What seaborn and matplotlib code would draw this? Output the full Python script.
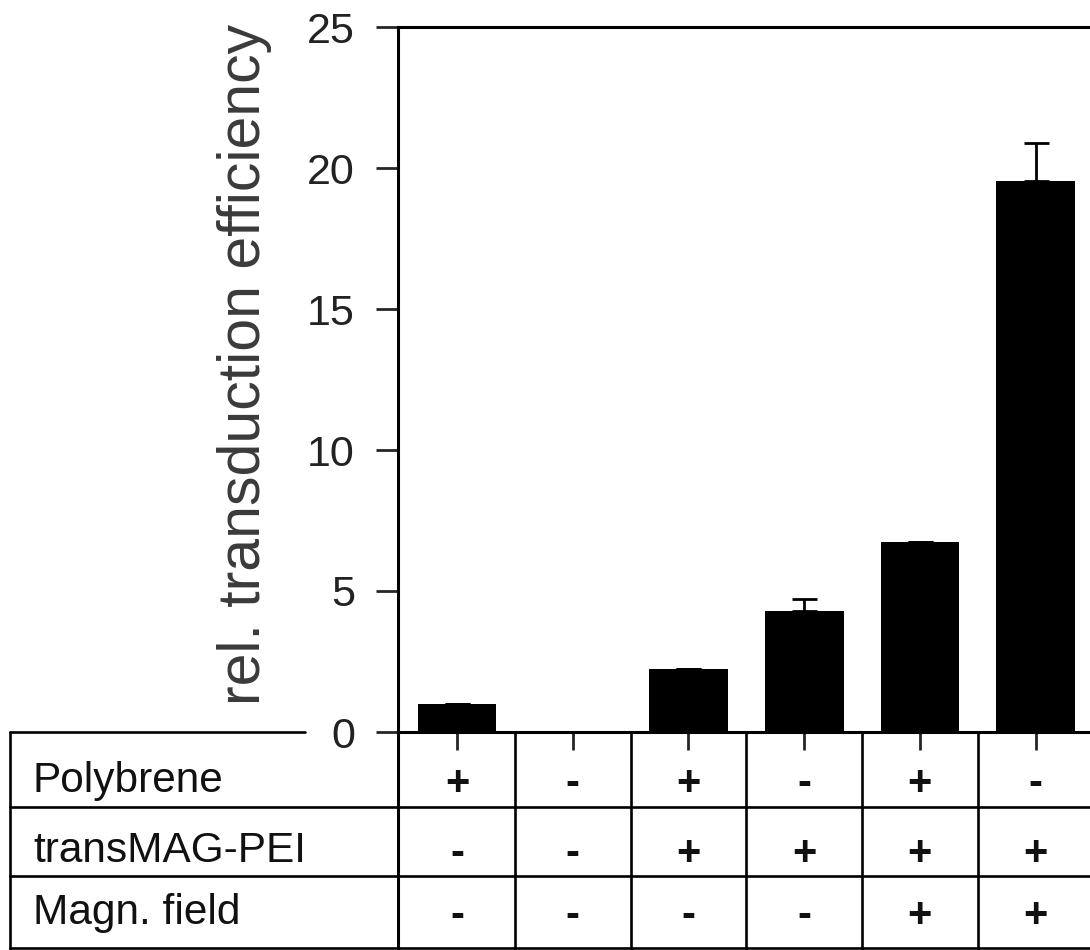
import matplotlib
matplotlib.use("Agg")
import matplotlib.pyplot as plt
import seaborn as sns
import pandas as pd
from matplotlib.lines import Line2D
import matplotlib.transforms as mtransforms

# ---- data ----
conditions = ["c1", "c2", "c3", "c4", "c5", "c6"]
efficiency = [1.0, 0.0, 2.25, 4.3, 6.75, 19.55]
err_upper = [0.0, 0.0, 0.0, 0.4, 0.0, 1.35]
row_labels = ["Polybrene", "transMAG-PEI", "Magn. field"]
polybrene = ["+", "-", "+", "-", "+", "-"]
transmag = ["-", "-", "+", "+", "+", "+"]
magn_field = ["-", "-", "-", "-", "+", "+"]
y_ticks = [0, 5, 10, 15, 20, 25]

sns.set_style("ticks")
plt.rcParams['font.family'] = ['Liberation Sans', 'DejaVu Sans']

W, H = 1090, 950
fig = plt.figure(figsize=(W / 100, H / 100), dpi=100)
ax = fig.add_axes([398 / W, 1 - 732 / H, 1 - 398 / W, (732 - 27) / H])

df = pd.DataFrame({"cond": conditions, "eff": efficiency})
sns.barplot(data=df, x="cond", y="eff", color="black", saturation=1,
            width=0.68, ax=ax, errorbar=None, edgecolor="black", linewidth=0)
ax.errorbar(range(len(conditions)), efficiency,
            yerr=[[0] * len(err_upper), err_upper], fmt="none",
            ecolor="black", elinewidth=2, capsize=9, capthick=2)

ax.set_xlim(-0.51, 5.47)
ax.set_ylim(0, 25)
ax.set_yticks(y_ticks)
ax.set_yticklabels([str(t) for t in y_ticks], fontsize=31, color="#222222")
ax.set_xticks(range(len(conditions)))
ax.set_xticklabels([])
ax.set_xlabel("")
ax.tick_params(axis="y", length=16, width=2, pad=15, direction="out")
ax.tick_params(axis="x", length=13, width=2, direction="out")
for s in ["left", "bottom", "top"]:
    ax.spines[s].set_linewidth(2.2)
    ax.spines[s].set_color("black")
ax.spines["right"].set_visible(False)

ax.set_ylabel("rel. transduction efficiency", fontsize=42.5, color="#3a3a3a")
ax.yaxis.set_label_coords(-0.182, 0.522)

# ---- condition table below the axis ----
lw = 1.9
fx = lambda px: px / W
fy = lambda py: 1 - py / H
# top edge (left part, before the 0 label)
fig.add_artist(Line2D([fx(10), fx(305)], [fy(732), fy(732)], color="black",
                      lw=lw, transform=fig.transFigure))
for py in [807, 876, 948]:
    fig.add_artist(Line2D([fx(10), 1.0], [fy(py), fy(py)], color="black",
                          lw=lw, transform=fig.transFigure))
# left border and continuation of the y axis
fig.add_artist(Line2D([fx(10), fx(10)], [fy(732), 0], color="black",
                      lw=lw, transform=fig.transFigure))
fig.add_artist(Line2D([fx(398), fx(398)], [fy(732), 0], color="black",
                      lw=2.2, transform=fig.transFigure))
blend = mtransforms.blended_transform_factory(ax.transData, fig.transFigure)
for i in range(len(conditions) - 1):
    fig.add_artist(Line2D([i + 0.5, i + 0.5], [fy(732), 0], color="black",
                          lw=lw, transform=blend))

row_y = [781, 851, 913]
rows = [polybrene, transmag, magn_field]
for label, ry, vals in zip(row_labels, row_y, rows):
    fig.text(fx(33), fy(ry), label, fontsize=30.5, ha="left", va="center",
             color="#111111")
    for i, v in enumerate(vals):
        fig.text(i, fy(ry + 3), v, transform=blend, fontsize=30,
                 fontweight="bold", ha="center", va="center", color="#111111")

fig.savefig("out.png", dpi=100)
